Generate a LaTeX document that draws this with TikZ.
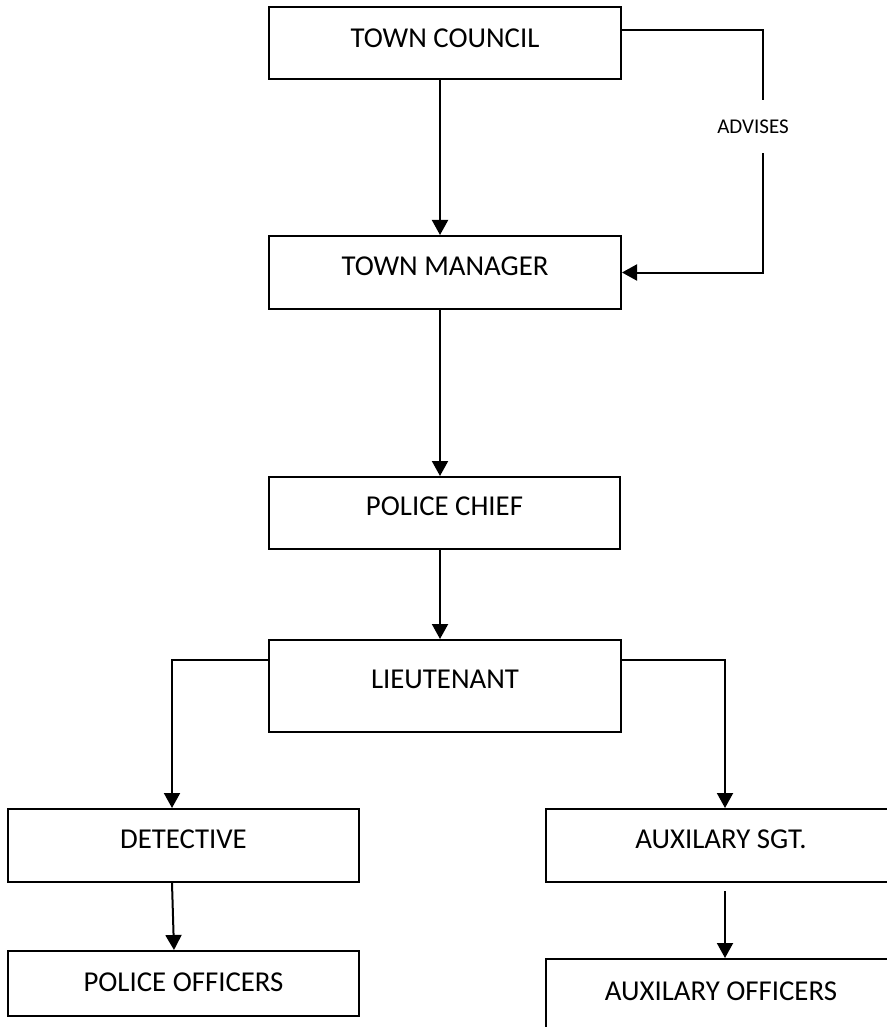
\documentclass[tikz,border=0pt]{standalone}
\usepackage{fontspec}
\setmainfont{Carlito}
\usetikzlibrary{arrows.meta}
\tikzset{
  box/.style={draw, line width=1pt, anchor=north, inner xsep=0pt, inner ysep=0pt,
    minimum width=176pt, text height=19.7pt, text depth=16.8pt,
    font=\fontsize{14.4}{17}\selectfont},
  link/.style={->, line width=1pt}
}
\begin{document}
\begin{tikzpicture}[x=0.5pt, y=-0.5pt, >={Triangle[length=7.5pt,width=8pt]}]
  \useasboundingbox (0,0) rectangle (887,1027);
  \clip (0,0) rectangle (887,1027);

  \node[box, text height=20.2pt, text depth=15.9pt] (council) at (445,6) {TOWN COUNCIL};
  \node[box] (manager) at (445,235) {TOWN MANAGER};
  \node[box, minimum width=175.5pt, text height=19.2pt, text depth=16.9pt] (chief) at (444.5,476) {POLICE CHIEF};
  \node[box, text height=24.2pt, text depth=21.9pt] (lieut) at (445,639) {LIEUTENANT};
  \node[box, minimum width=175.5pt] (detective) at (183.5,808) {DETECTIVE};
  \node[box, minimum width=175pt] (auxsgt) at (721,808) {AUXILARY SGT.};
  \node[box, minimum width=175.5pt, text height=20.2pt, text depth=12.4pt] (officers) at (183.5,950) {POLICE OFFICERS};
  \node[box, minimum width=175pt, text height=20.7pt, text depth=24.3pt] (auxoff) at (721,958) {AUXILARY OFFICERS};

  \coordinate (adv) at (763,30);
  \coordinate (trunk) at (440,0);
  \node[inner sep=0pt, minimum height=26.5pt, font=\fontsize{10.5}{12}\selectfont] (advises) at (753,126.5) {ADVISES};
  \coordinate (brl) at (172,660);
  \coordinate (brr) at (725,660);

  \draw[link] (trunk |- council.south) -- (trunk |- manager.north);
  \draw[line width=1pt] (council.east |- adv) -| (adv |- advises.north);
  \draw[link] (adv |- advises.south) |- (manager.east);
  \draw[link] (trunk |- manager.south) -- (trunk |- chief.north);
  \draw[link] (trunk |- chief.south) -- (trunk |- lieut.north);
  \draw[link] (lieut.west |- brl) -| (brl |- detective.north);
  \draw[link] (lieut.east |- brr) -| (brr |- auxsgt.north);
  \draw[link] (brl |- detective.south) -- ([xshift=1pt]brl |- officers.north);
  \draw[link] ([yshift=-4pt]brr |- auxsgt.south) -- (brr |- auxoff.north);
\end{tikzpicture}
\end{document}
